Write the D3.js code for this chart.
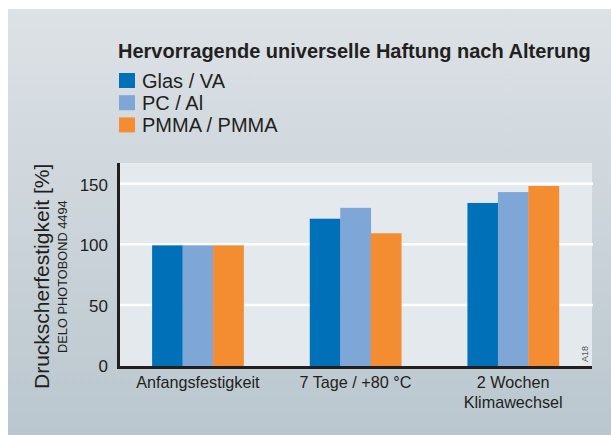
<!DOCTYPE html>
<html>
<head>
<meta charset="utf-8">
<script src="https://cdn.jsdelivr.net/npm/d3@7"></script>
<style>
  body { margin: 0; background: #fff; }
  text { font-family: "Liberation Sans", Arial, sans-serif; fill: #231f20; }
</style>
</head>
<body>
<div id="chart"></div>
<script>
// Data
var categories = ['Anfangsfestigkeit', '7 Tage / +80 °C', '2 Wochen\nKlimawechsel'];
var series = ['Glas / VA', 'PC / Al', 'PMMA / PMMA'];
var glasVA = [100, 122, 135];
var pcAl = [100, 131, 144];
var pmma = [100, 110, 149];
var yTicks = [0, 50, 100, 150];
var colors = ['#0070b8', '#7ea7d8', '#f48c32'];

var values = [glasVA, pcAl, pmma];

var w = 611, h = 435;
var svg = d3.select('#chart').append('svg')
    .attr('width', w)
    .attr('height', h);

// background panel with a soft gradient
var defs = svg.append('defs');
var grad = defs.append('linearGradient')
    .attr('id', 'bg')
    .attr('x1', 0).attr('y1', 0).attr('x2', 0).attr('y2', 1);
grad.append('stop').attr('offset', '0%').attr('stop-color', '#dde2e6');
grad.append('stop').attr('offset', '100%').attr('stop-color', '#bac7ce');

svg.append('rect')
    .attr('x', 8).attr('y', 9)
    .attr('width', w - 8).attr('height', h - 9)
    .attr('fill', 'url(#bg)');

// plot area (plotTop, not "top" - that one is taken by window)
var plotLeft = 119, plotRight = 592, plotTop = 163, plotBottom = 366.5;

var y = d3.scaleLinear().domain([0, 168]).range([plotBottom, plotTop]);
var x0 = d3.scaleBand()
    .domain(categories)
    .range([plotLeft, plotRight])
    .paddingInner(0.42)
    .paddingOuter(0.21);
var x1 = d3.scaleBand()
    .domain(series)
    .range([0, x0.bandwidth()]);

svg.append('rect')
    .attr('x', plotLeft).attr('y', plotTop)
    .attr('width', plotRight - plotLeft).attr('height', plotBottom - plotTop)
    .attr('fill', '#e4e9ed');

// gridlines
svg.append('g')
    .selectAll('line')
    .data(yTicks.filter(function(d) { return d > 0; }))
    .enter().append('line')
    .attr('x1', plotLeft).attr('x2', plotRight + 1)
    .attr('y1', function(d) { return y(d) - 1; })
    .attr('y2', function(d) { return y(d) - 1; })
    .attr('stroke', '#fff')
    .attr('stroke-width', 2.5);

// bars
var groups = svg.append('g')
    .selectAll('g')
    .data(categories)
    .enter().append('g')
    .attr('transform', function(d) { return 'translate(' + x0(d) + ',0)'; });

groups.selectAll('rect')
    .data(function(d, i) {
        return series.map(function(s, j) { return {s: s, v: values[j][i], c: colors[j]}; });
    })
    .enter().append('rect')
    .attr('x', function(d) { return x1(d.s); })
    .attr('width', x1.bandwidth() + 0.3)
    .attr('y', function(d) { return y(d.v); })
    .attr('height', function(d) { return plotBottom - y(d.v); })
    .attr('fill', function(d) { return d.c; });

// axes lines
svg.append('line')
    .attr('x1', plotLeft - 0.5).attr('x2', plotLeft - 0.5)
    .attr('y1', plotTop).attr('y2', plotBottom + 2.5)
    .attr('stroke', '#231f20').attr('stroke-width', 3);
svg.append('line')
    .attr('x1', plotLeft - 2).attr('x2', plotRight)
    .attr('y1', plotBottom + 1).attr('y2', plotBottom + 1)
    .attr('stroke', '#231f20').attr('stroke-width', 3);

// y tick labels
var yAxis = svg.append('g')
    .attr('transform', 'translate(' + plotLeft + ',0)')
    .call(d3.axisLeft(y).tickValues(yTicks).tickSize(0).tickPadding(11));
yAxis.select('.domain').remove();
yAxis.selectAll('text')
    .attr('font-size', 17)
    .attr('font-family', '"Liberation Sans", Arial, sans-serif')
    .attr('fill', '#231f20');

// x labels
var xAxis = svg.append('g')
    .attr('transform', 'translate(0,' + (plotBottom + 2) + ')')
    .call(d3.axisBottom(x0).tickSize(0).tickPadding(0));
xAxis.select('.domain').remove();
xAxis.selectAll('text').each(function(d) {
    var t = d3.select(this).text(null)
        .attr('font-size', 16.2)
        .attr('font-family', '"Liberation Sans", Arial, sans-serif')
        .attr('fill', '#231f20')
        .attr('dy', null)
        .attr('y', 0);
    d.split('\n').forEach(function(line, k) {
        t.append('tspan').attr('x', 0).attr('y', 19 + k * 20).text(line);
    });
});

// y axis titles
svg.append('text')
    .attr('transform', 'translate(49,389) rotate(-90)')
    .attr('font-size', 21)
    .text('Druckscherfestigkeit [%]');
svg.append('text')
    .attr('transform', 'translate(67,353) rotate(-90)')
    .attr('font-size', 12.8)
    .text('DELO PHOTOBOND 4494');

// small code mark
svg.append('text')
    .attr('transform', 'translate(588,362) rotate(-90)')
    .attr('font-size', 9)
    .style('fill', '#555')
    .text('A18');

// title
svg.append('text')
    .attr('x', 118).attr('y', 58)
    .attr('font-size', 20)
    .attr('font-weight', 'bold')
    .text('Hervorragende universelle Haftung nach Alterung');

// legend
var legend = svg.append('g')
    .selectAll('g')
    .data(series)
    .enter().append('g')
    .attr('transform', function(d, i) { return 'translate(119,' + (73 + i * 22.2) + ')'; });
legend.append('rect')
    .attr('width', 16).attr('height', 15)
    .attr('fill', function(d, i) { return colors[i]; });
legend.append('text')
    .attr('x', 23).attr('y', 15)
    .attr('font-size', 20)
    .text(function(d) { return d; });
</script>
</body>
</html>
